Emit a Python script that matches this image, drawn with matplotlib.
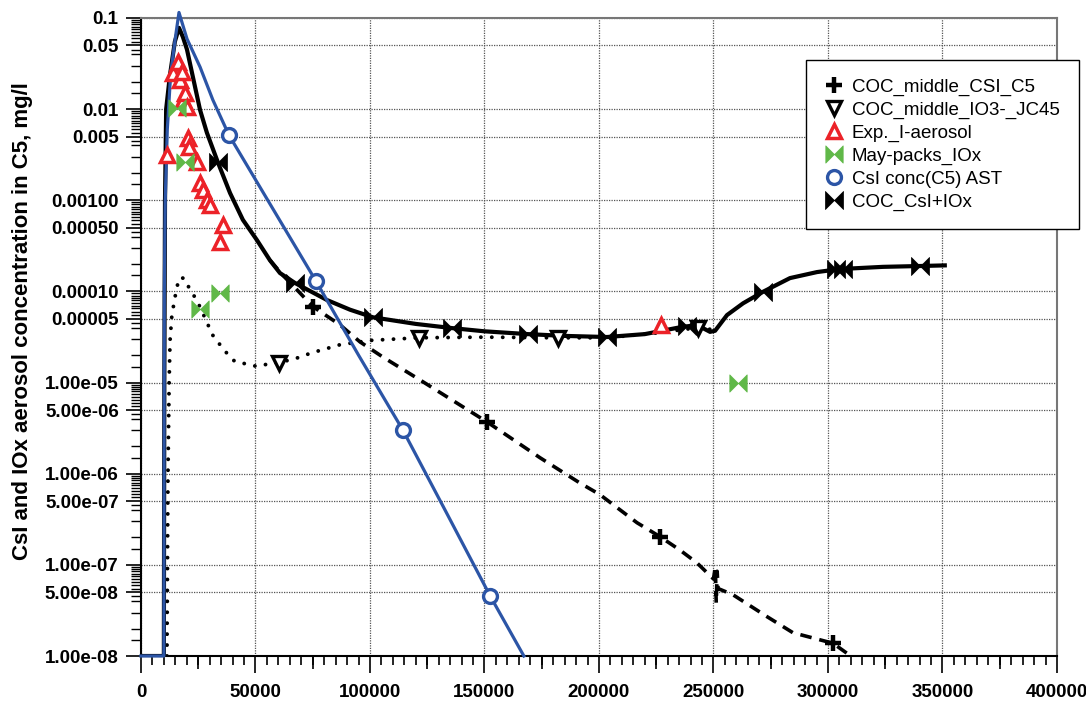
import numpy as np
import matplotlib.pyplot as plt
from matplotlib.path import Path
from matplotlib.ticker import FixedLocator, FixedFormatter, MultipleLocator, LogLocator, NullFormatter

plt.rcParams['font.family'] = ['Liberation Sans', 'DejaVu Sans']

# COC_CsI+IOx (total, solid line)
tot_x = [0, 10000, 10200, 10500, 11000, 12600, 14800, 16600, 18300, 20100, 22700, 25800,
         28800, 33600, 38900, 44500, 50600, 56300, 60700, 67200, 81200, 91300, 101300,
         120000, 135800, 150000, 169000, 185000, 203500, 220000, 236700, 243000, 248500,
         250700, 255900, 262900, 271600, 283400, 295200, 305200, 324000, 340200, 351000]
tot_y = [1e-8, 1e-8, 1e-5, 1e-3, 1e-2, 0.023, 0.055, 0.078, 0.062, 0.045, 0.0224, 0.0098,
         0.0055, 0.0026, 0.0012, 6.1e-4, 3.67e-4, 2.2e-4, 1.59e-4, 1.24e-4, 8.05e-5, 6.3e-5, 5.2e-5,
         4.4e-5, 3.96e-5, 3.65e-5, 3.4e-5, 3.25e-5, 3.16e-5, 3.4e-5, 4.1e-5, 4.25e-5, 3.6e-5,
         3.7e-5, 5.5e-5, 7.4e-5, 9.9e-5, 1.4e-4, 1.63e-4, 1.76e-4, 1.86e-4, 1.9e-4, 1.93e-4]
tot_mx = [33600, 67200, 101300, 135800, 169000, 203500, 238400, 271600, 303500, 306500, 340200]
tot_my = [0.0026, 1.24e-4, 5.2e-5, 3.96e-5, 3.4e-5, 3.16e-5, 4.2e-5, 9.9e-5, 1.74e-4, 1.77e-4, 1.9e-4]

# COC_middle_CSI_C5 (dashed)
csi_x = [56300, 62000, 68000, 75100, 86900, 95600, 105700, 121800, 151100, 174200, 191700,
         200400, 216600, 226600, 235400, 242800, 250000, 250800, 251200, 251600, 252000,
         258500, 273400, 284700, 302200, 308300]
csi_y = [2.2e-4, 1.5e-4, 1.05e-4, 6.8e-5, 4.3e-5, 2.8e-5, 1.9e-5, 1.07e-5, 3.7e-6, 1.5e-6, 7.9e-7,
         5.9e-7, 2.9e-7, 2.04e-7, 1.45e-7, 1.05e-7, 7.0e-8, 9.5e-8, 3.8e-8, 8.5e-8, 5.5e-8,
         4.7e-8, 2.7e-8, 1.8e-8, 1.38e-8, 1.07e-8]
csi_mx = [75100, 151100, 226600, 302200]
csi_my = [6.8e-5, 3.7e-6, 2.04e-7, 1.38e-8]

# COC_middle_IO3-_JC45 (dotted)
io3_x = [11350, 11800, 12300, 12700, 13500, 15200, 16600, 18800, 21400, 24400, 28800, 31000,
         34000, 37500, 41000, 46000, 50800, 55500, 60300, 69500, 74000, 86900, 100000,
         121400, 150000, 182100, 203500, 225000, 243200, 250000]
io3_y = [1e-8, 1e-6, 1e-5, 2.9e-5, 5.5e-5, 9.6e-5, 1.4e-4, 1.4e-4, 1.05e-4, 8e-5, 4.6e-5, 3.4e-5,
         2.7e-5, 2.1e-5, 1.7e-5, 1.6e-5, 1.5e-5, 1.6e-5, 1.65e-5, 1.9e-5, 2.1e-5, 2.6e-5, 2.9e-5,
         3.1e-5, 3.15e-5, 3.1e-5, 3.1e-5, 3.5e-5, 4.0e-5, 3.8e-5]
io3_mx = [60300, 121400, 182100, 243200]
io3_my = [1.65e-5, 3.1e-5, 3.1e-5, 4.0e-5]

# CsI conc(C5) AST (blue)
ast_x = [0, 10000, 10200, 10600, 11500, 13000, 15000, 16600, 20100, 25800, 31400, 38400,
         76400, 95000, 114400, 133000, 152400, 167200]
ast_y = [1e-8, 1e-8, 1e-4, 1e-3, 6e-3, 0.025, 0.06, 0.115, 0.059, 0.029, 0.0126, 0.0052,
         1.3e-4, 2.0e-5, 3.0e-6, 3.9e-7, 4.6e-8, 1e-8]
ast_mx = [38400, 76400, 114400, 152400]
ast_my = [0.0052, 1.3e-4, 3.0e-6, 4.6e-8]

# Exp._I-aerosol
exp_x = [11350, 13970, 16160, 17030, 17900, 18340, 19210, 20090, 20520, 20960, 24450,
         25760, 27070, 28820, 30130, 34500, 35810, 227070]
exp_y = [0.00314, 0.0249, 0.0329, 0.0209, 0.0256, 0.0126, 0.0150, 0.0105, 0.00482, 0.00384,
         0.00263, 0.00155, 0.00130, 0.00101, 0.000887, 0.000348, 0.000535, 4.28e-5]

# May-packs_IOx
may_x = [15720, 19210, 25760, 34500, 260700]
may_y = [0.0103, 0.00263, 6.4e-5, 9.6e-5, 1.0e-5]

ytick_vals = [1e-8, 5e-8, 1e-7, 5e-7, 1e-6, 5e-6, 1e-5, 5e-5, 1e-4, 5e-4, 1e-3, 5e-3, 1e-2, 5e-2, 1e-1]
ytick_labels = ['1.00e-08', '5.00e-08', '1.00e-07', '5.00e-07', '1.00e-06', '5.00e-06', '1.00e-05',
                '0.00005', '0.00010', '0.00050', '0.00100', '0.005', '0.01', '0.05', '0.1']
xtick_vals = [0, 50000, 100000, 150000, 200000, 250000, 300000, 350000, 400000]

blue = '#2c55a6'
red = '#ec2228'
green = '#60b848'

# bow-tie marker: two filled triangles meeting in the middle
bowtie = Path([(-1, -1), (-1, 1), (1, -1), (1, 1), (-1, -1)],
              [Path.MOVETO, Path.LINETO, Path.LINETO, Path.LINETO, Path.CLOSEPOLY])

fig = plt.figure(figsize=(10.86, 7.05), dpi=100)
ax = fig.add_axes([0.1298, 0.0695, 0.8435, 0.905])
ax.set_yscale('log')

# lines
ax.plot(io3_x, io3_y, color='black', lw=2.8, ls=(0, (0.01, 2.8)), dash_capstyle='round', zorder=3)
ax.plot(csi_x, csi_y, color='black', lw=2.6, ls=(0, (3.2, 2.2)), zorder=3)
ax.plot(tot_x, tot_y, color='black', lw=3.0, zorder=4)
ax.plot(ast_x, ast_y, color=blue, lw=2.3, zorder=5, clip_on=False)

# markers (these carry the legend)
ax.plot(csi_mx, csi_my, ls='none', marker='+', ms=11, mew=3.2, color='black',
        label='COC_middle_CSI_C5', zorder=6)
ax.plot(io3_mx, io3_my, ls='none', marker='v', ms=10.5, mew=2.4, mfc='white', mec='black',
        label='COC_middle_IO3-_JC45', zorder=6)
ax.plot(exp_x, exp_y, ls='none', marker='^', ms=10.5, mew=2.5, mfc='white', mec=red,
        label='Exp._I-aerosol', zorder=7)
ax.plot(may_x, may_y, ls='none', marker=bowtie, ms=12.5, mew=0.5, color=green,
        label='May-packs_IOx', zorder=8)
ax.plot(ast_mx, ast_my, ls='none', marker='o', ms=10, mew=2.4, mfc='white', mec=blue,
        label='CsI conc(C5) AST', zorder=6)
ax.plot(tot_mx, tot_my, ls='none', marker=bowtie, ms=13, mew=0.5, color='black',
        label='COC_CsI+IOx', zorder=6)

ax.set_xlim(0, 400000)
ax.set_ylim(1e-8, 0.1)

ax.xaxis.set_major_locator(FixedLocator(xtick_vals))
ax.xaxis.set_major_formatter(FixedFormatter([str(v) for v in xtick_vals]))
ax.xaxis.set_minor_locator(MultipleLocator(5000))
ax.yaxis.set_major_locator(FixedLocator(ytick_vals))
ax.yaxis.set_major_formatter(FixedFormatter(ytick_labels))
ax.yaxis.set_minor_locator(LogLocator(base=10, subs=[1.5, 2, 3, 4, 4.5, 5.5, 6, 6.5, 7, 7.5, 8, 8.5, 9, 9.5],
                                      numticks=100))
ax.yaxis.set_minor_formatter(NullFormatter())

ax.tick_params(axis='both', which='major', direction='out', width=1.2, labelsize=13.5)
ax.tick_params(axis='x', which='major', length=12, pad=8)
ax.tick_params(axis='y', which='major', length=11, pad=5)
ax.tick_params(axis='x', which='minor', length=6.5, width=1.2, direction='out')
ax.tick_params(axis='y', which='minor', length=7, width=1.0, direction='out')
for lab in ax.get_xticklabels() + ax.get_yticklabels():
    lab.set_fontweight('bold')

# medium ticks halfway between the labelled x ticks
sec = ax.secondary_xaxis('bottom')
sec.set_xticks(np.arange(25000, 400000, 50000))
sec.tick_params(length=9.5, width=1.2, labelbottom=False)
sec.spines['bottom'].set_visible(False)

ax.grid(True, which='major', color='#555555', lw=0.9, ls=(0, (1, 1)))
ax.set_axisbelow(True)

for s in ['left', 'bottom']:
    ax.spines[s].set_linewidth(1.5)
    ax.spines[s].set_color('black')
for s in ['top', 'right']:
    ax.spines[s].set_linewidth(1.5)
    ax.spines[s].set_color('#777777')

ax.set_ylabel('CsI and IOx aerosol concentration in C5, mg/l', fontsize=16, fontweight='bold')
ax.yaxis.set_label_coords(-0.118, 0.525)

leg = ax.legend(loc='upper left', bbox_to_anchor=(0.726, 0.934), fontsize=13.5, frameon=True,
                fancybox=False, edgecolor='black', framealpha=1, borderpad=1.0, labelspacing=0.3,
                handlelength=1.0, handletextpad=0.45, borderaxespad=0)
leg.get_frame().set_linewidth(1.0)

fig.savefig('out.png', dpi=100)
